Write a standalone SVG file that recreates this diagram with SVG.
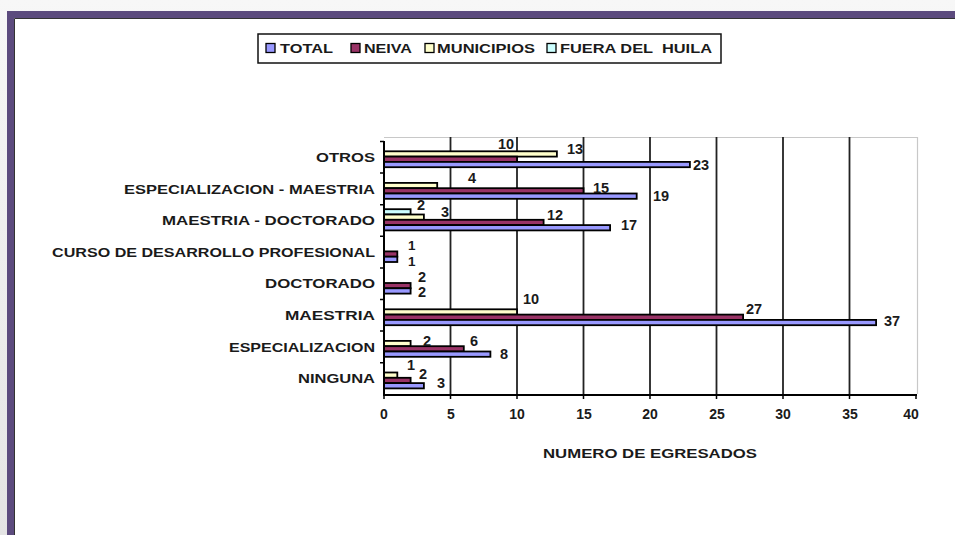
<svg xmlns="http://www.w3.org/2000/svg" width="955" height="535" viewBox="0 0 955 535">
<defs>
<linearGradient id="bg" x1="0" y1="0" x2="0" y2="1">
<stop offset="0" stop-color="#f7f7f7"/><stop offset="1" stop-color="#e4e4e4"/>
</linearGradient>
</defs>
<style>
text{font-family:"Liberation Sans",Arial,sans-serif;fill:#1a1a1a;font-size:13px;font-weight:bold}
#datalabels text{font-size:14.5px}
#datalabels text.sm{font-size:13.5px}
.num{font-size:14px}
.cat{text-anchor:end}
.tk{text-anchor:middle}
.grid{stroke:#222;stroke-width:1.8}
.t{fill:#9999ff;stroke:#000;stroke-width:1.8}
.n{fill:#993366;stroke:#000;stroke-width:1.8}
.m{fill:#ffffcc;stroke:#000;stroke-width:1.8}
.f{fill:#ccffff;stroke:#000;stroke-width:1.8}
.ax{stroke:#000;stroke-width:2;fill:none}
</style>
<rect x="0" y="0" width="955" height="535" fill="url(#bg)"/>
<rect x="10.5" y="14.5" width="960" height="540" fill="#fff" stroke="#5c4b7e" stroke-width="7"/>
<path d="M14.5 535 V18.5 H955" fill="none" stroke="#333" stroke-width="1"/>

<g id="legend">
<rect x="258" y="34" width="463" height="29" fill="#fff" stroke="#111" stroke-width="1.5"/>
<rect x="266" y="43.5" width="9" height="9" class="t" style="stroke-width:1.3"/>
<text x="280" y="53" textLength="53" lengthAdjust="spacingAndGlyphs">TOTAL</text>
<rect x="351" y="43.5" width="9" height="9" class="n" style="stroke-width:1.3"/>
<text x="364" y="53" textLength="48" lengthAdjust="spacingAndGlyphs">NEIVA</text>
<rect x="425" y="43.5" width="9" height="9" class="m" style="stroke-width:1.3"/>
<text x="437" y="53" textLength="98" lengthAdjust="spacingAndGlyphs">MUNICIPIOS</text>
<rect x="547" y="43.5" width="9" height="9" class="f" style="stroke-width:1.3"/>
<text x="560" y="53" textLength="152" lengthAdjust="spacingAndGlyphs" xml:space="preserve">FUERA DEL  HUILA</text>
</g>

<g id="plot">
<path d="M384 137.5 H917.5 V394" fill="none" stroke="#c8c8c8" stroke-width="1.2"/>
<g class="grid">
<line x1="450.5" y1="137" x2="450.5" y2="394"/>
<line x1="517" y1="137" x2="517" y2="394"/>
<line x1="583.5" y1="137" x2="583.5" y2="394"/>
<line x1="650" y1="137" x2="650" y2="394"/>
<line x1="716.5" y1="137" x2="716.5" y2="394"/>
<line x1="783" y1="137" x2="783" y2="394"/>
<line x1="849.5" y1="137" x2="849.5" y2="394"/>
</g>
</g>

<g id="bars">
<rect class="m" x="384" y="151.3" width="172.9" height="5.3"/>
<rect class="n" x="384" y="156.6" width="133" height="5.3"/>
<rect class="t" x="384" y="161.9" width="305.9" height="5.3"/>
<rect class="m" x="384" y="182.9" width="53.2" height="5.3"/>
<rect class="n" x="384" y="188.2" width="199.5" height="5.3"/>
<rect class="t" x="384" y="193.5" width="252.7" height="5.3"/>
<rect class="f" x="384" y="209.2" width="26.6" height="5.3"/>
<rect class="m" x="384" y="214.5" width="39.9" height="5.3"/>
<rect class="n" x="384" y="219.8" width="159.6" height="5.3"/>
<rect class="t" x="384" y="225.1" width="226.1" height="5.3"/>
<rect class="n" x="384" y="251.4" width="13.3" height="5.3"/>
<rect class="t" x="384" y="256.7" width="13.3" height="5.3"/>
<rect class="n" x="384" y="283" width="26.6" height="5.3"/>
<rect class="t" x="384" y="288.3" width="26.6" height="5.3"/>
<rect class="m" x="384" y="309.3" width="133" height="5.3"/>
<rect class="n" x="384" y="314.6" width="359.1" height="5.3"/>
<rect class="t" x="384" y="319.9" width="492.1" height="5.3"/>
<rect class="m" x="384" y="340.9" width="26.6" height="5.3"/>
<rect class="n" x="384" y="346.2" width="79.8" height="5.3"/>
<rect class="t" x="384" y="351.5" width="106.4" height="5.3"/>
<rect class="m" x="384" y="372.5" width="13.3" height="5.3"/>
<rect class="n" x="384" y="377.8" width="26.6" height="5.3"/>
<rect class="t" x="384" y="383.1" width="39.9" height="5.3"/>
</g>

<g id="axes">
<path class="ax" d="M384 141 V395 H917"/>
<path d="M380 141.5 H384 M380 173.1 H384 M380 204.7 H384 M380 236.3 H384 M380 267.9 H384 M380 299.5 H384 M380 331.1 H384 M380 362.7 H384 M384 394 V399 M450.5 394 V399 M517 394 V399 M583.5 394 V399 M650 394 V399 M716.5 394 V399 M783 394 V399 M849.5 394 V399 M916 394 V399" stroke="#000" stroke-width="1.5" fill="none"/>
</g>

<g id="datalabels">
<text x="498" y="149">10</text>
<text x="567" y="154">13</text>
<text x="693" y="170">23</text>
<text x="468" y="183">4</text>
<text x="593" y="193">15</text>
<text x="653" y="201">19</text>
<text x="417" y="210">2</text>
<text x="441" y="217">3</text>
<text x="547" y="220">12</text>
<text x="621" y="230">17</text>
<text class="sm" x="408" y="250">1</text>
<text class="sm" x="408" y="266">1</text>
<text x="418" y="282">2</text>
<text x="418" y="297">2</text>
<text x="523" y="304">10</text>
<text x="746" y="314">27</text>
<text x="884" y="326">37</text>
<text x="423" y="346">2</text>
<text x="470" y="346">6</text>
<text x="500" y="359">8</text>
<text x="407" y="370">1</text>
<text x="419" y="379">2</text>
<text x="437" y="388">3</text>
</g>

<g id="categories">
<text class="cat" x="375" y="162" textLength="59" lengthAdjust="spacingAndGlyphs">OTROS</text>
<text class="cat" x="375" y="193.5" textLength="251" lengthAdjust="spacingAndGlyphs">ESPECIALIZACION - MAESTRIA</text>
<text class="cat" x="375" y="225" textLength="213" lengthAdjust="spacingAndGlyphs">MAESTRIA - DOCTORADO</text>
<text class="cat" x="375" y="256.5" textLength="323" lengthAdjust="spacingAndGlyphs">CURSO DE DESARROLLO PROFESIONAL</text>
<text class="cat" x="375" y="288" textLength="110" lengthAdjust="spacingAndGlyphs">DOCTORADO</text>
<text class="cat" x="375" y="320" textLength="90" lengthAdjust="spacingAndGlyphs">MAESTRIA</text>
<text class="cat" x="375" y="351.5" textLength="146" lengthAdjust="spacingAndGlyphs">ESPECIALIZACION</text>
<text class="cat" x="375" y="383" textLength="77" lengthAdjust="spacingAndGlyphs">NINGUNA</text>
</g>

<g id="ticklabels">
<text class="tk num" x="384" y="419">0</text>
<text class="tk num" x="451" y="419">5</text>
<text class="tk num" x="517" y="419">10</text>
<text class="tk num" x="584" y="419">15</text>
<text class="tk num" x="650" y="419">20</text>
<text class="tk num" x="717" y="419">25</text>
<text class="tk num" x="783" y="419">30</text>
<text class="tk num" x="850" y="419">35</text>
<text class="tk num" x="911" y="419">40</text>
<text class="tk" x="650" y="458" textLength="214" lengthAdjust="spacingAndGlyphs">NUMERO DE EGRESADOS</text>
</g>
</svg>
